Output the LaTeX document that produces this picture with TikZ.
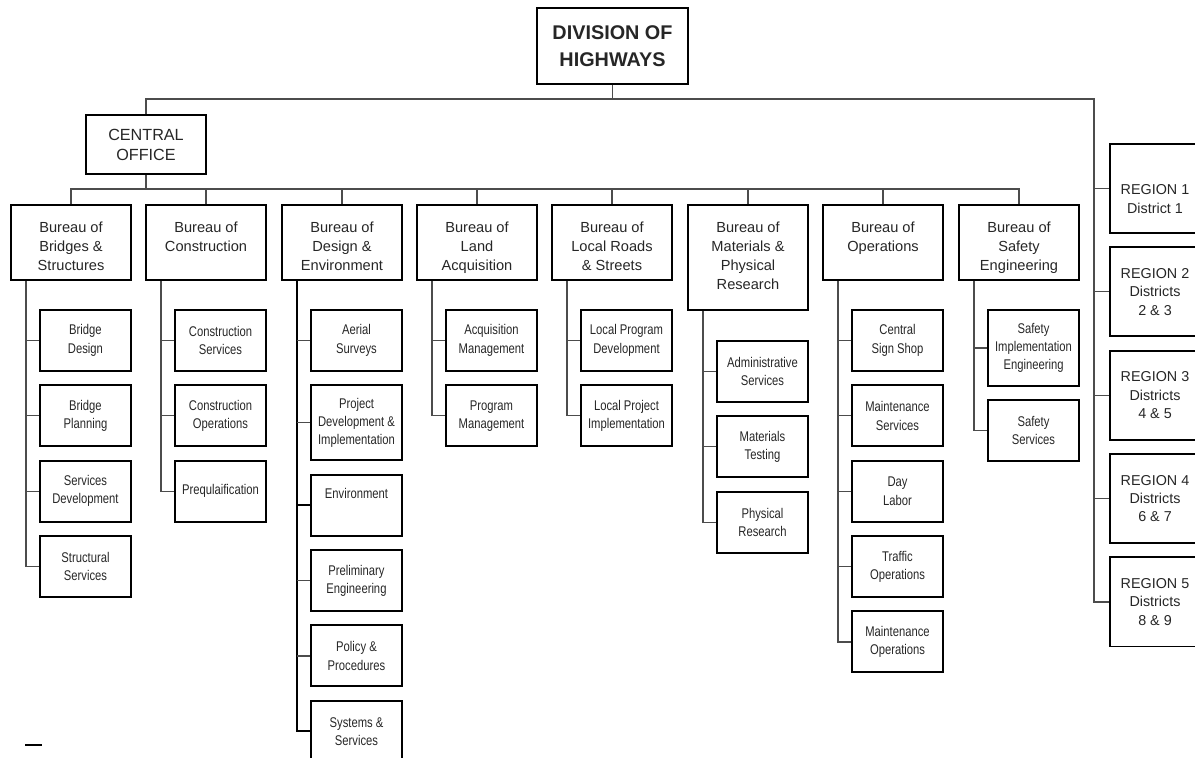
\documentclass[tikz,border=0pt]{standalone}
\usepackage{fontspec}
\setmainfont{Liberation Sans}
\newfontfamily\narrowfont[FakeStretch=0.8]{Liberation Sans}
\usetikzlibrary{positioning}

\tikzset{
  box/.style={draw=black, line width=1.4pt, align=center, text=black!85, inner sep=1pt},
  headbox/.style={box, minimum width=37.75mm, minimum height=19mm, font=\bfseries\fontsize{14.1}{19}\selectfont},
  officebox/.style={box, minimum width=30mm, minimum height=14.75mm, font=\fontsize{11.5}{14.2}\selectfont},
  bureau/.style={box, minimum width=30mm, minimum height=18.75mm, anchor=north},
  btext/.style={anchor=north, yshift=-4.4mm, inner sep=0pt, align=center, text=black!85, font=\fontsize{10.4}{13.5}\selectfont},
  subbox/.style={box, minimum width=22.75mm, minimum height=15.25mm, font=\narrowfont\fontsize{10}{13}\selectfont},
  region/.style={box, minimum width=22.5mm, minimum height=22.25mm, font=\fontsize{10.2}{13}\selectfont},
  link/.style={draw=black!70, line width=0.9pt},
  mainlink/.style={draw=black, line width=1.3pt},
}

\begin{document}
\begin{tikzpicture}[x=0.25mm, y=-0.25mm, node distance=3.1mm]
\useasboundingbox (0,0) rectangle (1195,757);

\node[headbox] (doh) at (612.5,46) {DIVISION OF\\HIGHWAYS};
\node[officebox] (co) at (146,144.5) {CENTRAL\\OFFICE};

% bureaus
\node[bureau, label={[btext]north:Bureau of\\Bridges \&\\Structures}] (bb) at (71,204) {};
\node[bureau, label={[btext]north:Bureau of\\Construction}] (bc) at (206,204) {};
\node[bureau, label={[btext]north:Bureau of\\Design \&\\Environment}] (bd) at (342,204) {};
\node[bureau, label={[btext]north:Bureau of\\Land\\Acquisition}] (bl) at (477,204) {};
\node[bureau, label={[btext]north:Bureau of\\Local Roads\\\& Streets}] (br) at (612,204) {};
\node[bureau, minimum height=26.25mm, label={[btext]north:Bureau of\\Materials \&\\Physical\\Research}] (bm) at (748,204) {};
\node[bureau, label={[btext]north:Bureau of\\Operations}] (bo) at (883,204) {};
\node[bureau, label={[btext]north:Bureau of\\Safety\\Engineering}] (bs) at (1019,204) {};

% sections
\node[subbox, anchor=north east] (bb1) at ([yshift=-7mm]bb.south east) {Bridge\\Design};
\node[subbox, below=of bb1] (bb2) {Bridge\\Planning};
\node[subbox, below=of bb2] (bb3) {Services\\Development};
\node[subbox, below=of bb3] (bb4) {Structural\\Services};

\node[subbox, anchor=north east] (bc1) at ([yshift=-7mm]bc.south east) {Construction\\Services};
\node[subbox, below=of bc1] (bc2) {Construction\\Operations};
\node[subbox, below=of bc2] (bc3) {Prequlaification};

\node[subbox, anchor=north east] (bd1) at ([yshift=-7mm]bd.south east) {Aerial\\Surveys};
\node[subbox, below=of bd1, minimum height=18.75mm] (bd2) {Project\\Development \&\\Implementation};
\node[subbox, below=of bd2] (bd3) {Environment\\\strut};
\node[subbox, below=of bd3] (bd4) {Preliminary\\Engineering};
\node[subbox, below=of bd4] (bd5) {Policy \&\\Procedures};
\node[subbox, below=of bd5] (bd6) {Systems \&\\Services};

\node[subbox, anchor=north east] (bl1) at ([yshift=-7mm]bl.south east) {Acquisition\\Management};
\node[subbox, below=of bl1] (bl2) {Program\\Management};

\node[subbox, anchor=north east] (br1) at ([yshift=-7mm]br.south east) {Local Program\\Development};
\node[subbox, below=of br1] (br2) {Local Project\\Implementation};

\node[subbox, anchor=north east] (bm1) at ([yshift=-7.25mm]bm.south east) {Administrative\\Services};
\node[subbox, below=of bm1] (bm2) {Materials\\Testing};
\node[subbox, below=of bm2] (bm3) {Physical\\Research};

\node[subbox, anchor=north east] (bo1) at ([yshift=-7mm]bo.south east) {Central\\Sign Shop};
\node[subbox, below=of bo1] (bo2) {Maintenance\\Services};
\node[subbox, below=of bo2] (bo3) {Day\\Labor};
\node[subbox, below=of bo3] (bo4) {Traffic\\Operations};
\node[subbox, below=of bo4] (bo5) {Maintenance\\Operations};

\node[subbox, anchor=north east, minimum height=19mm] (bs1) at ([yshift=-7mm]bs.south east) {Safety\\Implementation\\Engineering};
\node[subbox, below=of bs1] (bs2) {Safety\\Services};

% regions
\node[region, anchor=north west] (r1) at (1109,143) {\strut\\REGION 1\\District 1};
\node[region, below=of r1] (r2) {REGION 2\\Districts\\2 \& 3};
\node[region, below=of r2] (r3) {REGION 3\\Districts\\4 \& 5};
\node[region, below=of r3] (r4) {REGION 4\\Districts\\6 \& 7};
\node[region, below=of r4] (r5) {REGION 5\\Districts\\8 \& 9};

% top level lines
\coordinate (rs) at (1094,99);
\draw[link] (doh.south) -- (doh.south |- rs);
\draw[link] (co.north) |- (rs) |- (r5.west);
\draw[link] (r1.west) -- (r1.west -| rs);
\draw[link] (r2.west) -- (r2.west -| rs);
\draw[link] (r3.west) -- (r3.west -| rs);
\draw[link] (r4.west) -- (r4.west -| rs);

% bureau bus
\coordinate (bus) at (146,189);
\draw[link] (co.south) -- (bus);
\draw[link] (bb.north) |- (bus) -| (bs.north);
\draw[link] (bc.north) -- (bc.north |- bus);
\draw[link] (bd.north) -- (bd.north |- bus);
\draw[link] (bl.north) -- (bl.north |- bus);
\draw[link] (br.north) -- (br.north |- bus);
\draw[link] (bm.north) -- (bm.north |- bus);
\draw[link] (bo.north) -- (bo.north |- bus);

% section spines
\coordinate (bbs) at ([xshift=4mm]bb.south west);
\draw[link] (bbs) |- (bb4.west);
\draw[link] (bb1.west) -- (bb1.west -| bbs);
\draw[link] (bb2.west) -- (bb2.west -| bbs);
\draw[link] (bb3.west) -- (bb3.west -| bbs);

\coordinate (bcs) at ([xshift=4mm]bc.south west);
\draw[link] (bcs) |- (bc3.west);
\draw[link] (bc1.west) -- (bc1.west -| bcs);
\draw[link] (bc2.west) -- (bc2.west -| bcs);

\coordinate (bds) at ([xshift=4mm]bd.south west);
\draw[mainlink] (bds) |- (bd6.west);
\draw[link] (bd1.west) -- (bd1.west -| bds);
\draw[link] (bd2.west) -- (bd2.west -| bds);
\draw[mainlink] (bd3.west) -- (bd3.west -| bds);
\draw[link] (bd4.west) -- (bd4.west -| bds);
\draw[link] (bd5.west) -- (bd5.west -| bds);

\coordinate (bls) at ([xshift=4mm]bl.south west);
\draw[link] (bls) |- (bl2.west);
\draw[link] (bl1.west) -- (bl1.west -| bls);

\coordinate (brs) at ([xshift=4mm]br.south west);
\draw[link] (brs) |- (br2.west);
\draw[link] (br1.west) -- (br1.west -| brs);

\coordinate (bms) at ([xshift=4mm]bm.south west);
\draw[link] (bms) |- (bm3.west);
\draw[link] (bm1.west) -- (bm1.west -| bms);
\draw[link] (bm2.west) -- (bm2.west -| bms);

\coordinate (bos) at ([xshift=4mm]bo.south west);
\draw[link] (bos) |- (bo5.west);
\draw[link] (bo1.west) -- (bo1.west -| bos);
\draw[link] (bo2.west) -- (bo2.west -| bos);
\draw[link] (bo3.west) -- (bo3.west -| bos);
\draw[link] (bo4.west) -- (bo4.west -| bos);

\coordinate (bss) at ([xshift=4mm]bs.south west);
\draw[link] (bss) |- (bs2.west);
\draw[link] (bs1.west) -- (bs1.west -| bss);

\draw[line width=1pt] (25,745) -- (42,745);
\end{tikzpicture}
\end{document}
